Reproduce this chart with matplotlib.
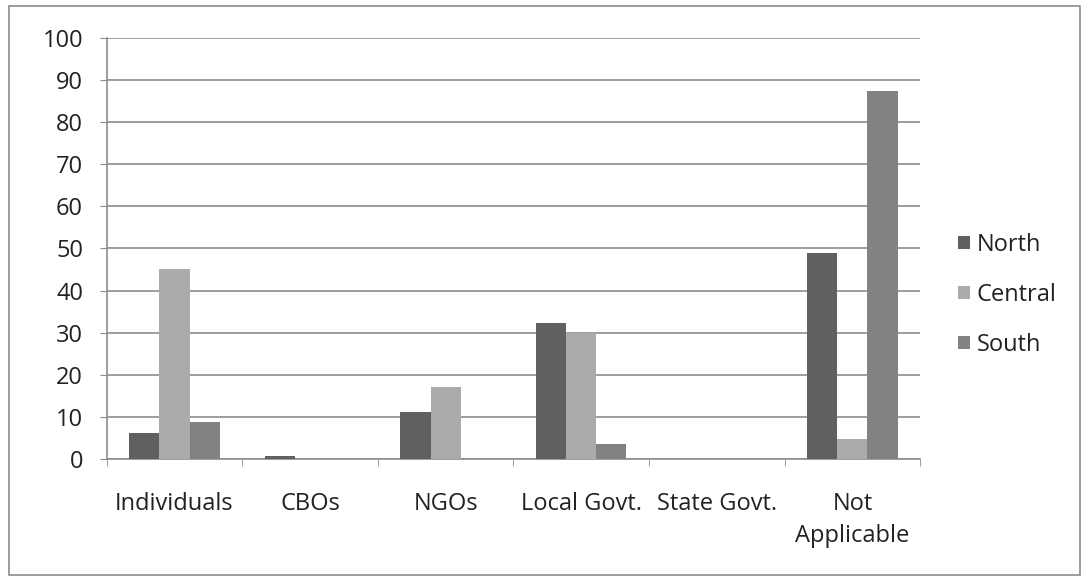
import numpy as np
import matplotlib.pyplot as plt
from matplotlib.patches import Rectangle

categories = ['Individuals', 'CBOs', 'NGOs', 'Local Govt.', 'State Govt.', 'Not\nApplicable']
north = [6.2, 0.6, 11.2, 32.3, 0, 49.0]
central = [45.1, 0, 17.1, 30.0, 0, 4.8]
south = [8.8, 0, 0, 3.6, 0, 87.4]
series = ['North', 'Central', 'South']
colors = ['#606060', '#ababab', '#828282']

plt.rcParams['font.family'] = ['Open Sans', 'DejaVu Sans']
fs = 17

fig = plt.figure(figsize=(10.89, 5.81), dpi=100)
ax = fig.add_axes([0.098, 0.21, 0.747, 0.7246])

x = np.arange(len(categories))
w = 1 / 4.5
for i, (vals, name, c) in enumerate(zip([north, central, south], series, colors)):
    ax.bar(x + (i - 1) * w, vals, w, color=c, label=name, zorder=3)

ax.set_xlim(-0.5, len(categories) - 0.5)
ax.set_ylim(0, 100)
ax.set_yticks(range(0, 101, 10))
ax.yaxis.grid(True, color='#8c8c8c', linewidth=1.2, zorder=0)
ax.set_xticks(x)
ax.set_xticklabels(categories, fontsize=fs, color='#222222', linespacing=1.45)
ax.set_xticks(np.arange(-0.5, len(categories)), minor=True)
ax.tick_params(axis='x', which='major', length=0, pad=24)
ax.tick_params(axis='x', which='minor', length=5, color='#8c8c8c', direction='out')
ax.tick_params(axis='y', length=5, color='#8c8c8c', labelsize=fs, labelcolor='#222222', pad=12)

for s in ['top', 'right']:
    ax.spines[s].set_visible(False)
for s in ['left', 'bottom']:
    ax.spines[s].set_color('#8c8c8c')
    ax.spines[s].set_linewidth(1.2)

leg = ax.legend(loc='center left', bbox_to_anchor=(1.02, 0.39), frameon=False,
                fontsize=fs, handlelength=0.5, handleheight=0.5, handletextpad=0.3,
                labelspacing=1.1)
for t in leg.get_texts():
    t.set_color('#222222')

fig.patches.append(Rectangle((0.008, 0.01), 0.984, 0.98, transform=fig.transFigure,
                             fill=False, edgecolor='#8c8c8c', linewidth=1.2))

fig.savefig('out.png', dpi=100)
